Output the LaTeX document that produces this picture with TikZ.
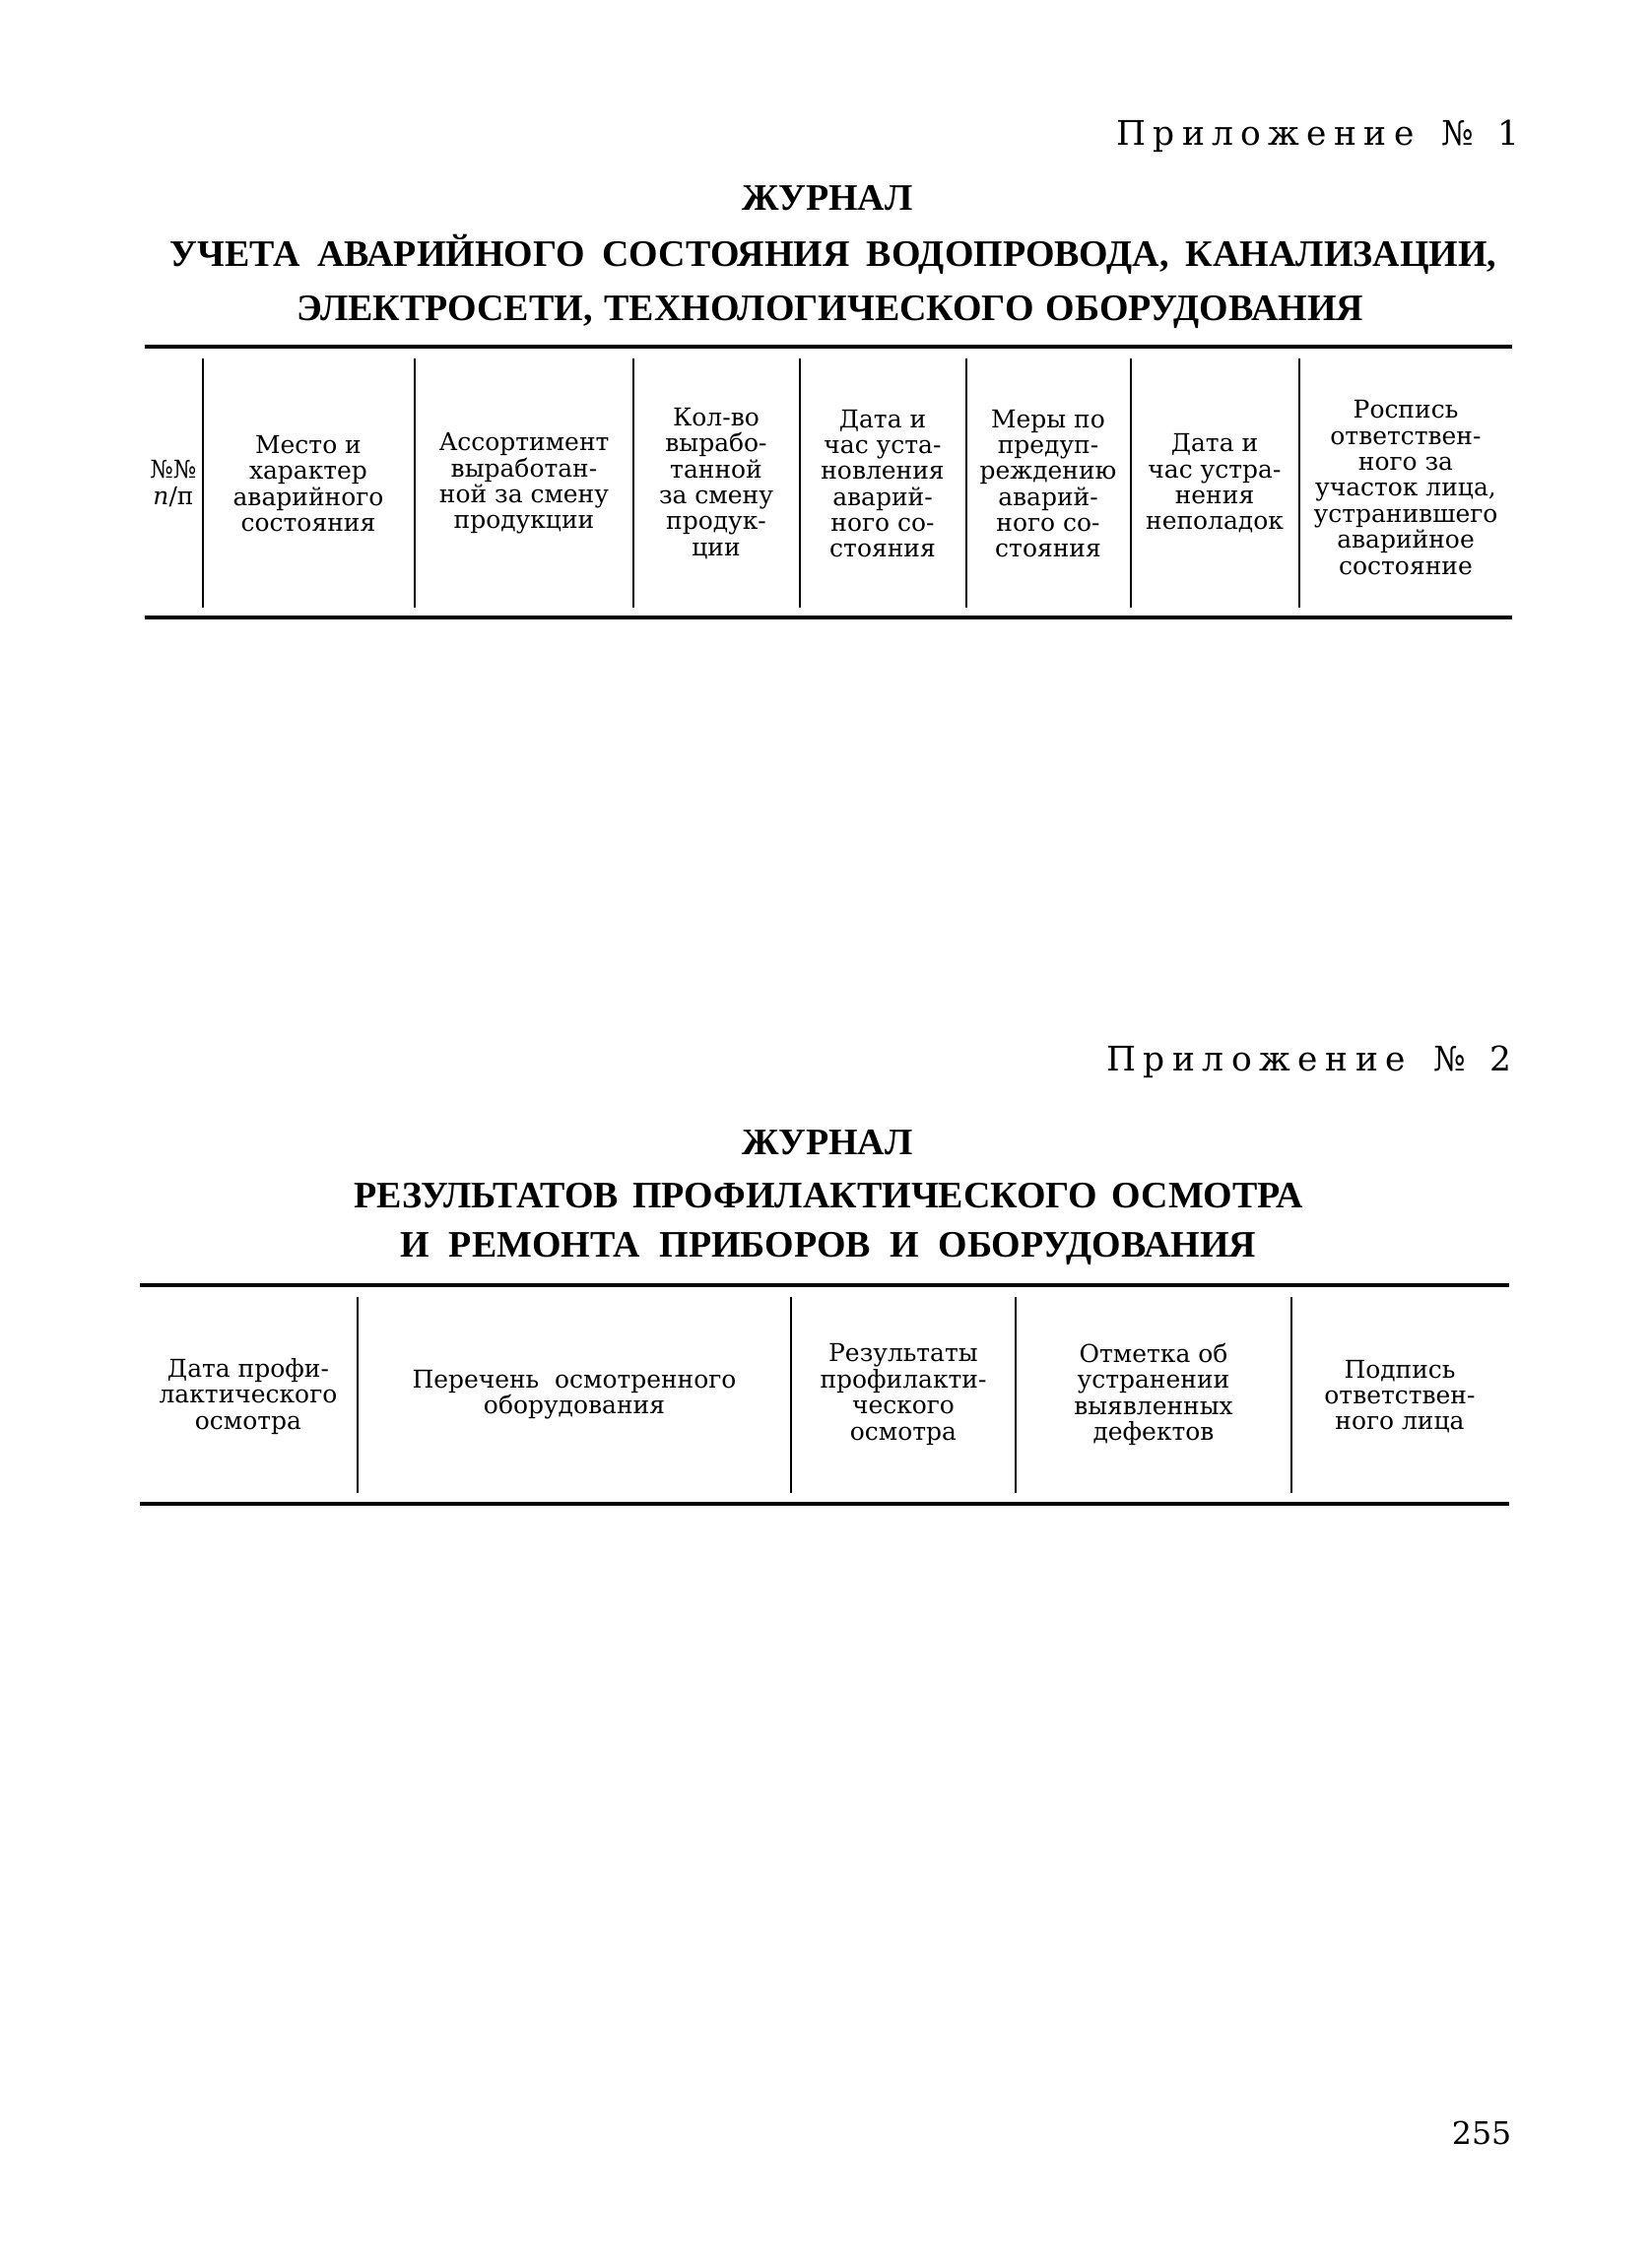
\documentclass[tikz,border=0pt]{standalone}
\usepackage{fontspec}
\setmainfont{DejaVu Serif}
\newfontfamily\headfont{Liberation Serif}
\newcommand\tabfont{\fontsize{7.1}{7.5}\selectfont}
\newcommand\appfont{\fontsize{9.8}{11}\selectfont}
\newcommand\titlefont{\headfont\bfseries\fontsize{10.8}{12}\selectfont}

\begin{document}
\begin{tikzpicture}[
    cell/.style={align=center, font=\tabfont, inner sep=0pt},
    apptext/.style={anchor=base east, font=\appfont, inner sep=0pt},
    title/.style={anchor=base, font=\titlefont, inner sep=0pt},
    thickrule/.style={line width=0.9pt},
    colrule/.style={line width=0.6pt}]
    \useasboundingbox (0, 0) rectangle (16.77, -23.03);

    % appendix 1
    \node[apptext] (app1) at (15.35, -1.47) {\makebox[114pt][s]{П р и л о ж е н и е\hspace{8pt}№\hspace{7pt}1}};
    \node[title] (head1) at (8.40, -2.13) {ЖУРНАЛ};
    \node[title] (title1a) at (8.46, -2.70) {\makebox[383pt][s]{УЧЕТА АВАРИЙНОГО СОСТОЯНИЯ ВОДОПРОВОДА, КАНАЛИЗАЦИИ,}};
    \node[title] (title1b) at (8.43, -3.25) {\makebox[308pt][s]{ЭЛЕКТРОСЕТИ, ТЕХНОЛОГИЧЕСКОГО ОБОРУДОВАНИЯ}};

    \draw[thickrule] (1.47, -3.52) -- (15.35, -3.52);
    \draw[thickrule] (1.47, -6.27) -- (15.35, -6.27);
    \draw[colrule] (2.06, -3.64) -- (2.06, -6.17);
    \draw[colrule] (4.21, -3.64) -- (4.21, -6.17);
    \draw[colrule] (6.43, -3.64) -- (6.43, -6.17);
    \draw[colrule] (8.12, -3.64) -- (8.12, -6.17);
    \draw[colrule] (9.81, -3.64) -- (9.81, -6.17);
    \draw[colrule] (11.48, -3.64) -- (11.48, -6.17);
    \draw[colrule] (13.19, -3.64) -- (13.19, -6.17);

    \node[cell] (num) at (1.76, -4.91) {№№\\\textit{п}/п};
    \node[cell] (place) at (3.13, -4.91) {Место и\\характер\\аварийного\\состояния};
    \node[cell] (assort) at (5.32, -4.91) {Ассортимент\\выработан-\\ной за смену\\продукции};
    \node[cell] (amount) at (7.27, -4.91) {Кол-во\\вырабо-\\танной\\за смену\\продук-\\ции};
    \node[cell] (found) at (8.96, -4.91) {Дата и\\час уста-\\новления\\аварий-\\ного со-\\стояния};
    \node[cell] (measures) at (10.64, -4.91) {Меры по\\предуп-\\реждению\\аварий-\\ного со-\\стояния};
    \node[cell] (fixed) at (12.33, -4.91) {Дата и\\час устра-\\нения\\неполадок};
    \node[cell] (sign1) at (14.27, -4.95) {Роспись\\ответствен-\\ного за\\участок лица,\\устранившего\\аварийное\\состояние};

    % appendix 2
    \node[apptext] (app2) at (15.35, -10.87) {\makebox[117pt][s]{П р и л о ж е н и е\hspace{8pt}№\hspace{7pt}2}};
    \node[title] (head2) at (8.40, -11.72) {ЖУРНАЛ};
    \node[title] (title2a) at (8.41, -12.26) {\makebox[274pt][s]{РЕЗУЛЬТАТОВ ПРОФИЛАКТИЧЕСКОГО ОСМОТРА}};
    \node[title] (title2b) at (8.41, -12.76) {\makebox[247pt][s]{И РЕМОНТА ПРИБОРОВ И ОБОРУДОВАНИЯ}};

    \draw[thickrule] (1.42, -13.05) -- (15.32, -13.05);
    \draw[thickrule] (1.42, -15.27) -- (15.32, -15.27);
    \draw[colrule] (3.63, -13.17) -- (3.63, -15.16);
    \draw[colrule] (8.03, -13.17) -- (8.03, -15.16);
    \draw[colrule] (10.31, -13.17) -- (10.31, -15.16);
    \draw[colrule] (13.11, -13.17) -- (13.11, -15.16);

    \node[cell] (date) at (2.52, -14.18) {Дата профи-\\лактического\\осмотра};
    \node[cell] (list) at (5.83, -14.16) {Перечень\ \ осмотренного\\оборудования};
    \node[cell] (result) at (9.17, -14.16) {Результаты\\профилакти-\\ческого\\осмотра};
    \node[cell] (mark) at (11.71, -14.16) {Отметка об\\устранении\\выявленных\\дефектов};
    \node[cell] (sign2) at (14.21, -14.18) {Подпись\\ответствен-\\ного лица};

    \node[anchor=base east, font=\fontsize{9}{10}\selectfont, inner sep=0pt] (page) at (15.35, -21.77) {255};
\end{tikzpicture}
\end{document}
